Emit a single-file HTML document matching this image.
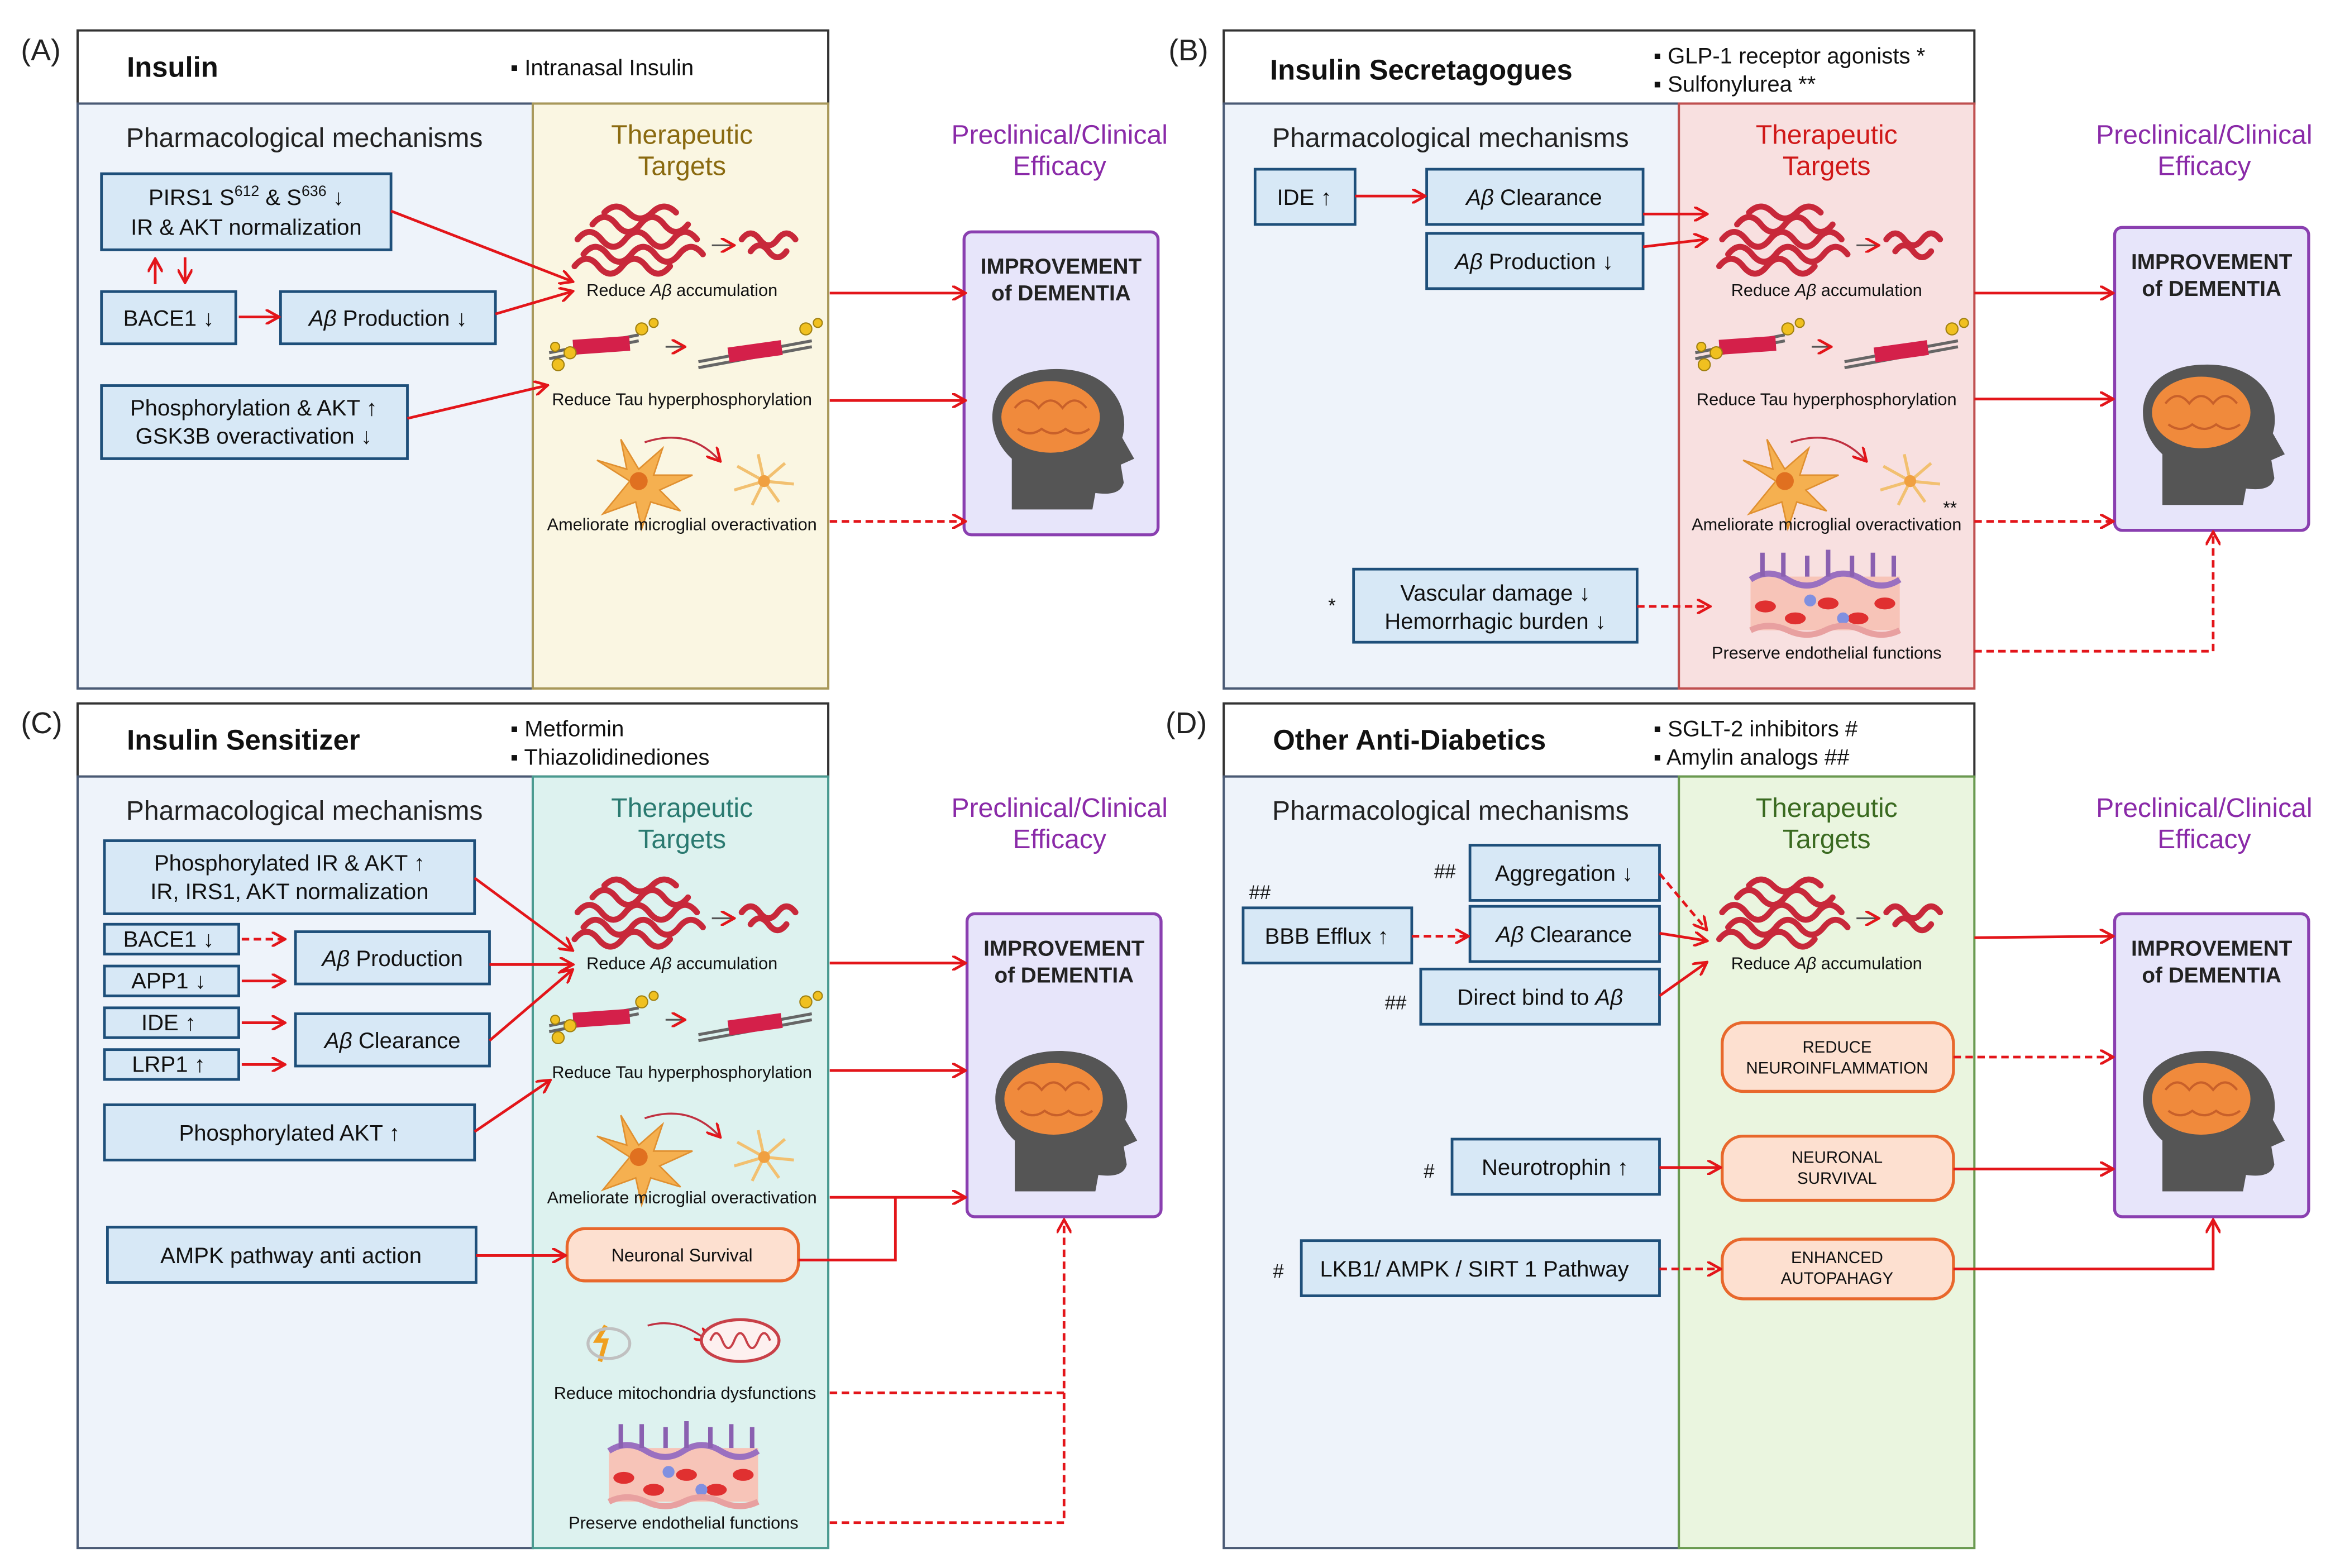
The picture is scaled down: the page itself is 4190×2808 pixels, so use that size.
<!DOCTYPE html>
<html><head><meta charset="utf-8"><style>html,body{margin:0;padding:0;background:#fff}svg{display:block}text{font-family:"Liberation Sans",sans-serif}</style></head><body>
<svg xmlns="http://www.w3.org/2000/svg" width="4190" height="2808" viewBox="0 0 1568 1050">
<defs>
<marker id="ar" markerWidth="10" markerHeight="10" refX="8" refY="5" orient="auto" markerUnits="userSpaceOnUse"><path d="M0,0 L9,5 L0,10" fill="none" stroke="#e3151a" stroke-width="1.8"/></marker>
<g id="amy">
<g fill="none" stroke="#c8283a" stroke-width="4" stroke-linecap="round">
<path d="M2,20 q8,-10 16,0 t16,0 t16,0 t16,0 t16,0"/>
<path d="M6,30 q8,-10 16,0 t16,0 t16,0 t16,0 t16,0"/>
<path d="M12,10 q8,-10 16,0 t16,0 t16,0 t16,0"/>
<path d="M0,38 q8,-10 16,0 t16,0 t16,0 t16,0"/>
<path d="M20,2 q8,-8 16,0 t16,0 t16,0"/>
<path d="M112,20 q6,-8 12,0 t12,0 t12,0"/>
<path d="M118,28 q6,-8 12,0 t12,0"/>
</g>
<path d="M92,24 L106,24" stroke="#555" stroke-width="1.2" marker-end="url(#ar)"/>
</g>
<g id="tau">
<path d="M0,22 L60,10 M0,26 L60,14" stroke="#666" stroke-width="2"/>
<rect x="16" y="12" width="38" height="10" fill="#d4204a" transform="rotate(-4 35 17)"/>
<g fill="#f0c020" stroke="#a08010" stroke-width=".8"><circle cx="6" cy="30" r="4"/><circle cx="14" cy="22" r="4"/><circle cx="62" cy="6" r="4"/><circle cx="70" cy="2" r="3"/><circle cx="4" cy="18" r="3"/></g>
<path d="M78,18 L90,18" stroke="#555" stroke-width="1.2" marker-end="url(#ar)"/>
<path d="M100,28 L176,14 M100,32 L176,18" stroke="#666" stroke-width="2"/>
<rect x="120" y="16" width="36" height="10" fill="#d4204a" transform="rotate(-8 138 21)"/>
<g fill="#f0c020" stroke="#a08010" stroke-width=".8"><circle cx="172" cy="6" r="4"/><circle cx="180" cy="2" r="3"/></g>
</g>
<g id="mg">
<path d="M30,30 l-22,-14 l20,6 l-4,-20 l12,20 l16,-14 l-6,18 l26,0 l-22,10 l14,14 l-20,-6 l-6,18 l-4,-18 l-22,8 z" fill="#f5b050" stroke="#e09030"/>
<circle cx="36" cy="30" r="6" fill="#e07020"/>
<path d="M40,4 q30,-10 50,12" fill="none" stroke="#c03040" stroke-width="1.3" marker-end="url(#ar)"/>
<path d="M120,30 l-18,-10 M120,30 l-4,-18 M120,30 l14,-12 M120,30 l20,2 M120,30 l10,14 M120,30 l-8,16 M120,30 l-20,6" stroke="#f2c070" stroke-width="2"/>
<circle cx="120" cy="30" r="4" fill="#f0a040"/>
</g>
<g id="endo">
<rect x="0" y="20" width="100" height="36" fill="#f7c4b8"/>
<path d="M0,22 q12,-8 25,0 t25,0 t25,0 t25,0" fill="none" stroke="#9a70c0" stroke-width="4"/>
<path d="M8,20 v-16 M22,20 v-16 M38,20 v-14 M52,20 v-18 M68,20 v-14 M82,20 v-16 M96,20 v-14" stroke="#8a60b0" stroke-width="3"/>
<g fill="#e03030"><ellipse cx="10" cy="40" rx="7" ry="4"/><ellipse cx="30" cy="48" rx="7" ry="4"/><ellipse cx="52" cy="38" rx="7" ry="4"/><ellipse cx="72" cy="48" rx="7" ry="4"/><ellipse cx="90" cy="38" rx="7" ry="4"/></g>
<circle cx="40" cy="36" r="4" fill="#8090e0"/><circle cx="62" cy="48" r="4" fill="#8090e0"/>
<path d="M0,56 q12,-6 25,0 t25,0 t25,0 t25,0" fill="none" stroke="#e8a0a0" stroke-width="4"/>
</g>
<g id="mito">
<path d="M10,10 l-6,10 l6,0 l-4,14" stroke="#f0a020" stroke-width="3" fill="none"/>
<ellipse cx="12" cy="22" rx="14" ry="10" fill="none" stroke="#c0c0c0" stroke-width="2"/>
<path d="M38,10 q20,-6 40,10" fill="none" stroke="#c03040" stroke-width="1.3" marker-end="url(#ar)"/>
<ellipse cx="100" cy="20" rx="26" ry="14" fill="#fdf0ef" stroke="#c84048" stroke-width="2"/>
<path d="M80,20 q4,-10 8,0 t8,0 t8,0 t8,0 t8,0" fill="none" stroke="#c84048" stroke-width="1.5"/>
</g>
<g id="imp">
<rect x="0" y="0" width="130" height="203" rx="5" fill="#e7e5fa" stroke="#8a3fb0" stroke-width="2"/>
<text x="65" y="28" font-size="14.5" font-weight="bold" text-anchor="middle" fill="#222">IMPROVEMENT</text>
<text x="65" y="46" font-size="14.5" font-weight="bold" text-anchor="middle" fill="#222">of DEMENTIA</text>
<path d="M32,186 L32,152 C10,132 14,94 58,92 C98,90 112,118 106,138 L114,152 L105,156 L107,168 C105,176 96,176 88,175 L86,186 Z" fill="#555"/>
<ellipse cx="58" cy="124" rx="33" ry="24" fill="#f08a3c"/>
<path d="M34,118 q8,-10 16,0 q8,-10 16,0 q8,-10 16,0 M36,132 q8,6 16,0 q8,6 16,0 q8,6 16,0" fill="none" stroke="#c8602a" stroke-width="1.5"/>
</g>
</defs>
<g font-family="Liberation Sans,sans-serif">
<!-- Panel labels -->
<text x="14" y="40" font-size="20" fill="#222">(A)</text>
<text x="783" y="40" font-size="20" fill="#222">(B)</text>
<text x="14" y="491" font-size="20" fill="#222">(C)</text>
<text x="781" y="491" font-size="20" fill="#222">(D)</text>

<!-- Panel A -->
<rect x="52" y="20" width="503" height="49" fill="#fff" stroke="#333" stroke-width="1.5"/>
<text x="85" y="51" font-size="19" font-weight="bold" fill="#111">Insulin</text>
<text x="342" y="50" font-size="15" fill="#111">▪ Intranasal Insulin</text>
<rect x="52" y="69" width="305" height="392" fill="#eef3fa" stroke="#4a5a75" stroke-width="1.5"/>
<rect x="357" y="69" width="198" height="392" fill="#faf6e2" stroke="#a8985a" stroke-width="1.5"/>
<text x="204" y="98" font-size="18" text-anchor="middle" fill="#222">Pharmacological mechanisms</text>
<text x="457" y="96" font-size="18" text-anchor="middle" fill="#8a6a10">Therapeutic</text>
<text x="457" y="117" font-size="18" text-anchor="middle" fill="#8a6a10">Targets</text>
<text x="710" y="96" font-size="18" text-anchor="middle" fill="#8a2aa8">Preclinical/Clinical</text>
<text x="710" y="117" font-size="18" text-anchor="middle" fill="#8a2aa8">Efficacy</text>
<use href="#imp" x="646" y="155"/>
<g fill="#d7e8f6" stroke="#1e4f7a" stroke-width="1.8">
<rect x="68" y="116" width="194" height="51"/><rect x="68" y="195" width="90" height="35"/><rect x="188" y="195" width="144" height="35"/><rect x="68" y="258" width="205" height="49"/>
</g>
<g font-size="15" text-anchor="middle" fill="#111">
<text x="165" y="137">PIRS1 S<tspan font-size="10" dy="-6">612</tspan><tspan dy="6"> &amp; S</tspan><tspan font-size="10" dy="-6">636</tspan><tspan dy="6"> ↓</tspan></text>
<text x="165" y="157">IR &amp; AKT normalization</text>
<text x="113" y="218">BACE1 ↓</text>
<text x="260" y="218"><tspan font-style="italic">Aβ</tspan> Production ↓</text>
<text x="170" y="278">Phosphorylation &amp; AKT ↑</text>
<text x="170" y="297">GSK3B overactivation ↓</text>
</g>
<use href="#amy" x="385" y="140"/><use href="#tau" x="368" y="214"/><use href="#mg" x="392" y="292"/>
<g font-size="11.5" text-anchor="middle" fill="#111">
<text x="457" y="198">Reduce <tspan font-style="italic">Aβ</tspan> accumulation</text>
<text x="457" y="271">Reduce Tau hyperphosphorylation</text>
<text x="457" y="355">Ameliorate microglial overactivation</text>
</g>

<!-- Panel B -->
<rect x="820" y="20" width="503" height="49" fill="#fff" stroke="#333" stroke-width="1.5"/>
<text x="851" y="53" font-size="19" font-weight="bold" fill="#111">Insulin Secretagogues</text>
<text x="1108" y="42" font-size="15" fill="#111">▪ GLP-1 receptor agonists *</text>
<text x="1108" y="61" font-size="15" fill="#111">▪ Sulfonylurea **</text>
<rect x="820" y="69" width="305" height="392" fill="#eef3fa" stroke="#4a5a75" stroke-width="1.5"/>
<rect x="1125" y="69" width="198" height="392" fill="#f8e0e0" stroke="#c05050" stroke-width="1.5"/>
<text x="972" y="98" font-size="18" text-anchor="middle" fill="#222">Pharmacological mechanisms</text>
<text x="1224" y="96" font-size="18" text-anchor="middle" fill="#d01818">Therapeutic</text>
<text x="1224" y="117" font-size="18" text-anchor="middle" fill="#d01818">Targets</text>
<text x="1477" y="96" font-size="18" text-anchor="middle" fill="#8a2aa8">Preclinical/Clinical</text>
<text x="1477" y="117" font-size="18" text-anchor="middle" fill="#8a2aa8">Efficacy</text>
<use href="#imp" x="1417" y="152"/>
<g fill="#d7e8f6" stroke="#1e4f7a" stroke-width="1.8">
<rect x="841" y="113" width="67" height="37"/><rect x="956" y="113" width="145" height="37"/><rect x="956" y="156" width="145" height="37"/><rect x="907" y="381" width="190" height="49"/>
</g>
<g font-size="15" text-anchor="middle" fill="#111">
<text x="874" y="137">IDE ↑</text>
<text x="1028" y="137"><tspan font-style="italic">Aβ</tspan> Clearance</text>
<text x="1028" y="180"><tspan font-style="italic">Aβ</tspan> Production ↓</text>
<text x="1002" y="402">Vascular damage ↓</text>
<text x="1002" y="421">Hemorrhagic burden ↓</text>
</g>
<text x="890" y="410" font-size="13" fill="#111">*</text>
<text x="1302" y="344" font-size="12" fill="#111">**</text>
<use href="#amy" x="1152" y="140"/><use href="#tau" x="1136" y="214"/><use href="#mg" x="1160" y="292"/><use href="#endo" x="1173" y="366"/>
<g font-size="11.5" text-anchor="middle" fill="#111">
<text x="1224" y="198">Reduce <tspan font-style="italic">Aβ</tspan> accumulation</text>
<text x="1224" y="271">Reduce Tau hyperphosphorylation</text>
<text x="1224" y="355">Ameliorate microglial overactivation</text>
<text x="1224" y="441">Preserve endothelial functions</text>
</g>

<!-- Panel C -->
<rect x="52" y="471" width="503" height="49" fill="#fff" stroke="#333" stroke-width="1.5"/>
<text x="85" y="502" font-size="19" font-weight="bold" fill="#111">Insulin Sensitizer</text>
<text x="342" y="493" font-size="15" fill="#111">▪ Metformin</text>
<text x="342" y="512" font-size="15" fill="#111">▪ Thiazolidinediones</text>
<rect x="52" y="520" width="305" height="517" fill="#eef3fa" stroke="#4a5a75" stroke-width="1.5"/>
<rect x="357" y="520" width="198" height="517" fill="#ddf2ef" stroke="#4a9a90" stroke-width="1.5"/>
<text x="204" y="549" font-size="18" text-anchor="middle" fill="#222">Pharmacological mechanisms</text>
<text x="457" y="547" font-size="18" text-anchor="middle" fill="#2a7a70">Therapeutic</text>
<text x="457" y="568" font-size="18" text-anchor="middle" fill="#2a7a70">Targets</text>
<text x="710" y="547" font-size="18" text-anchor="middle" fill="#8a2aa8">Preclinical/Clinical</text>
<text x="710" y="568" font-size="18" text-anchor="middle" fill="#8a2aa8">Efficacy</text>
<use href="#imp" x="648" y="612"/>
<g fill="#d7e8f6" stroke="#1e4f7a" stroke-width="1.8">
<rect x="70" y="563" width="248" height="49"/><rect x="70" y="619" width="90" height="20"/><rect x="70" y="647" width="90" height="20"/><rect x="70" y="675" width="90" height="20"/><rect x="70" y="703" width="90" height="20"/>
<rect x="198" y="624" width="130" height="35"/><rect x="198" y="679" width="130" height="35"/><rect x="70" y="740" width="248" height="37"/><rect x="72" y="822" width="247" height="37"/>
</g>
<g font-size="15" text-anchor="middle" fill="#111">
<text x="194" y="583">Phosphorylated IR &amp; AKT ↑</text>
<text x="194" y="602">IR, IRS1, AKT normalization</text>
<text x="113" y="634">BACE1 ↓</text><text x="113" y="662">APP1 ↓</text><text x="113" y="690">IDE ↑</text><text x="113" y="718">LRP1 ↑</text>
<text x="263" y="647"><tspan font-style="italic">Aβ</tspan> Production</text>
<text x="263" y="702"><tspan font-style="italic">Aβ</tspan> Clearance</text>
<text x="194" y="764">Phosphorylated AKT ↑</text>
<text x="195" y="846">AMPK pathway anti action</text>
</g>
<rect x="380" y="823" width="155" height="35" rx="12" fill="#fde0d0" stroke="#e8682c" stroke-width="2"/>
<text x="457" y="845" font-size="12" text-anchor="middle" fill="#111">Neuronal Survival</text>
<use href="#amy" x="385" y="591"/><use href="#tau" x="368" y="665"/><use href="#mg" x="392" y="745"/><use href="#mito" x="396" y="878"/><use href="#endo" x="408" y="950"/>
<g font-size="11.5" text-anchor="middle" fill="#111">
<text x="457" y="649">Reduce <tspan font-style="italic">Aβ</tspan> accumulation</text>
<text x="457" y="722">Reduce Tau hyperphosphorylation</text>
<text x="457" y="806">Ameliorate microglial overactivation</text>
<text x="459" y="937">Reduce mitochondria dysfunctions</text>
<text x="458" y="1024">Preserve endothelial functions</text>
</g>

<!-- Panel D -->
<rect x="820" y="471" width="503" height="49" fill="#fff" stroke="#333" stroke-width="1.5"/>
<text x="853" y="502" font-size="19" font-weight="bold" fill="#111">Other Anti-Diabetics</text>
<text x="1108" y="493" font-size="15" fill="#111">▪ SGLT-2 inhibitors #</text>
<text x="1108" y="512" font-size="15" fill="#111">▪ Amylin analogs ##</text>
<rect x="820" y="520" width="305" height="517" fill="#eef3fa" stroke="#4a5a75" stroke-width="1.5"/>
<rect x="1125" y="520" width="198" height="517" fill="#eaf5df" stroke="#6a9a50" stroke-width="1.5"/>
<text x="972" y="549" font-size="18" text-anchor="middle" fill="#222">Pharmacological mechanisms</text>
<text x="1224" y="547" font-size="18" text-anchor="middle" fill="#3a6a20">Therapeutic</text>
<text x="1224" y="568" font-size="18" text-anchor="middle" fill="#3a6a20">Targets</text>
<text x="1477" y="547" font-size="18" text-anchor="middle" fill="#8a2aa8">Preclinical/Clinical</text>
<text x="1477" y="568" font-size="18" text-anchor="middle" fill="#8a2aa8">Efficacy</text>
<use href="#imp" x="1417" y="612"/>
<g fill="#d7e8f6" stroke="#1e4f7a" stroke-width="1.8">
<rect x="985" y="566" width="127" height="37"/><rect x="833" y="608" width="113" height="37"/><rect x="985" y="607" width="127" height="37"/><rect x="952" y="649" width="160" height="37"/><rect x="973" y="763" width="139" height="37"/><rect x="872" y="831" width="240" height="37"/>
</g>
<g font-size="15" text-anchor="middle" fill="#111">
<text x="1048" y="590">Aggregation ↓</text>
<text x="889" y="632">BBB Efflux ↑</text>
<text x="1048" y="631"><tspan font-style="italic">Aβ</tspan> Clearance</text>
<text x="1032" y="673">Direct bind to <tspan font-style="italic">Aβ</tspan></text>
<text x="1042" y="787">Neurotrophin ↑</text>
<text x="988" y="855">LKB1/ AMPK / SIRT 1 Pathway</text>
</g>
<g font-size="13" fill="#111"><text x="961" y="588">##</text><text x="837" y="602">##</text><text x="928" y="676">##</text><text x="954" y="789">#</text><text x="853" y="856">#</text></g>
<use href="#amy" x="1152" y="591"/>
<text x="1224" y="649" font-size="11.5" text-anchor="middle" fill="#111">Reduce <tspan font-style="italic">Aβ</tspan> accumulation</text>
<g fill="#fde0d0" stroke="#e8682c" stroke-width="2">
<rect x="1154" y="685" width="155" height="46" rx="14"/><rect x="1154" y="761" width="155" height="43" rx="14"/><rect x="1154" y="830" width="155" height="40" rx="14"/>
</g>
<g font-size="11" text-anchor="middle" fill="#111">
<text x="1231" y="705">REDUCE</text><text x="1231" y="719">NEUROINFLAMMATION</text>
<text x="1231" y="779">NEURONAL</text><text x="1231" y="793">SURVIVAL</text>
<text x="1231" y="846">ENHANCED</text><text x="1231" y="860">AUTOPAHAGY</text>
</g>

<!-- Arrows -->
<g stroke="#e3151a" stroke-width="1.8" fill="none" marker-end="url(#ar)">
<path d="M262,141 L383,188"/><path d="M160,212 L186,212"/><path d="M332,210 L383,195"/><path d="M273,280 L366,258"/>
<path d="M104,190 L104,174"/><path d="M124,172 L124,188"/>
<path d="M556,196 L646,196"/><path d="M556,268 L646,268"/>
<path d="M908,131 L954,131"/><path d="M1101,143 L1143,143"/><path d="M1101,165 L1143,160"/>
<path d="M1323,196 L1415,196"/><path d="M1323,267 L1415,267"/>
<path d="M318,588 L383,636"/><path d="M162,657 L190,657"/><path d="M162,685 L190,685"/><path d="M162,713 L190,713"/>
<path d="M328,646 L383,646"/><path d="M328,697 L383,650"/><path d="M318,758 L368,724"/><path d="M319,841 L378,841"/>
<path d="M556,645 L646,645"/><path d="M556,717 L646,717"/><path d="M556,802 L646,802"/>
<path d="M1112,625 L1143,630"/><path d="M1112,667 L1143,645"/><path d="M1112,782 L1152,782"/>
<path d="M1323,628 L1415,627"/><path d="M1309,783 L1415,783"/><path d="M1309,850 L1483,850 L1483,818"/>
</g>
<path d="M535,844 L600,844 L600,802" stroke="#e3151a" stroke-width="1.8" fill="none"/>
<g stroke="#e3151a" stroke-width="1.8" fill="none" stroke-dasharray="5,3" marker-end="url(#ar)">
<path d="M556,349 L646,349"/><path d="M1097,406 L1145,406"/><path d="M1323,349 L1415,349"/><path d="M1323,436 L1483,436 L1483,357"/>
<path d="M162,629 L190,629"/><path d="M556,933 L713,933 L713,818"/>
<path d="M1112,585 L1143,622"/><path d="M946,627 L983,627"/><path d="M1112,850 L1152,850"/><path d="M1309,708 L1415,708"/>
</g>
<path d="M556,1020 L713,1020 L713,933" stroke="#e3151a" stroke-width="1.8" fill="none" stroke-dasharray="5,3"/>
</g>
</svg>
</body></html>
